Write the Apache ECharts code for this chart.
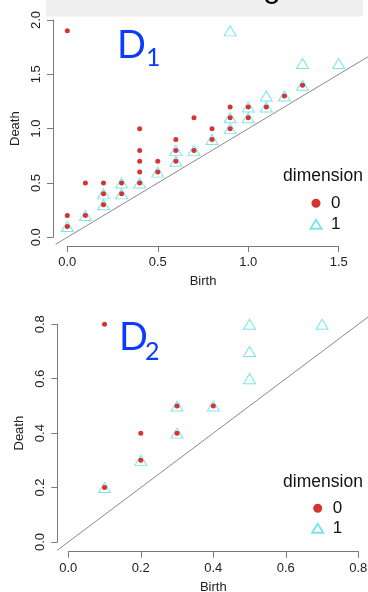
<!DOCTYPE html>
<html><head><meta charset="utf-8">
<script src="https://cdn.jsdelivr.net/npm/echarts@6/dist/echarts.min.js"></script>
<style>html,body{margin:0;padding:0;background:#fff}#c{width:368px;height:592px}</style>
</head><body><div id="c"></div>
<script>
// Diagram D1
const d1Dim0 = [[0,1.9],[0,0.2],[0,0.1],[0.1,0.5],[0.1,0.2],[0.2,0.5],[0.2,0.4],[0.2,0.3],[0.3,0.5],[0.3,0.4],
  [0.4,1.0],[0.4,0.8],[0.4,0.7],[0.4,0.6],[0.4,0.5],[0.5,0.7],[0.5,0.6],[0.6,0.9],[0.6,0.8],[0.6,0.7],
  [0.7,1.1],[0.7,0.8],[0.8,1.0],[0.8,0.9],[0.9,1.2],[0.9,1.1],[0.9,1.0],[1.0,1.2],[1.0,1.1],[1.1,1.2],[1.2,1.3],[1.3,1.4]];
const d1Dim1 = [[0,0.1],[0.1,0.2],[0.2,0.4],[0.2,0.3],[0.3,0.5],[0.3,0.4],[0.4,0.5],[0.5,0.6],[0.6,0.8],[0.6,0.7],
  [0.7,0.8],[0.8,0.9],[0.9,1.9],[0.9,1.1],[0.9,1.0],[1.0,1.2],[1.0,1.1],[1.1,1.3],[1.1,1.2],[1.2,1.3],[1.3,1.6],[1.3,1.4],[1.5,1.6]];
const d1Diag = [[-0.065,-0.065],[1.8,1.8]];
const d1XTicks = [0, 0.5, 1.0, 1.5];
const d1YTicks = [0, 0.5, 1.0, 1.5, 2.0];
// Diagram D2
const d2Dim0 = [[0.1,0.8],[0.1,0.2],[0.2,0.4],[0.2,0.3],[0.3,0.5],[0.3,0.4],[0.4,0.5]];
const d2Dim1 = [[0.1,0.2],[0.2,0.3],[0.3,0.5],[0.3,0.4],[0.4,0.5],[0.5,0.8],[0.5,0.7],[0.5,0.6],[0.7,0.8]];
const d2Diag = [[-0.031,-0.031],[0.9,0.9]];
const d2XTicks = [0, 0.2, 0.4, 0.6, 0.8];
const d2YTicks = [0, 0.2, 0.4, 0.6, 0.8];

const FONT = 'Liberation Sans, Arial, sans-serif';
const AX = '#7a7a7a';
const RED = '#cc0000';
const CYAN = '#5cdde6';

// plot geometry (pixels of first and last tick)
const geo = [
  {x0:67.3, x1:338.7, y0:237.3, y1:20},
  {x0:68.3, x1:358.3, y0:542, y1:324.3}
];
const ticksX = [d1XTicks, d2XTicks], ticksY = [d1YTicks, d2YTicks], diags = [d1Diag, d2Diag];

function gridFor(i){
  const g = geo[i];
  return {left:g.x0, top:g.y1, width:g.x1-g.x0, height:g.y0-g.y1, outerBoundsMode:'none', containLabel:false};
}
function diagGridFor(i){
  const g = geo[i], tx = ticksX[i], ty = ticksY[i], d = diags[i];
  const sx = (g.x1-g.x0)/(tx[tx.length-1]-tx[0]);
  const sy = (g.y0-g.y1)/(ty[ty.length-1]-ty[0]);
  const lo = d[0][0], hi = d[1][0];
  return {left:g.x0 + (lo-tx[0])*sx, width:(hi-lo)*sx, top:g.y0 - (hi-ty[0])*sy, height:(hi-lo)*sy,
    outerBoundsMode:'none', containLabel:false};
}

function xAxisCfg(g, ticks, offset){
  return {gridIndex:g, type:'value', min:ticks[0], max:ticks[ticks.length-1], interval:ticks[1]-ticks[0],
    offset:offset, axisLine:{show:true,onZero:false,lineStyle:{color:AX,width:1}},
    axisTick:{show:true,length:6,lineStyle:{color:AX}},
    axisLabel:{margin:10,fontSize:13,color:'#222',fontFamily:FONT,formatter:v=>v.toFixed(1),showMinLabel:true,showMaxLabel:true},
    splitLine:{show:false},
    name:'Birth', nameLocation:'middle', nameGap:29, nameTextStyle:{fontSize:13,color:'#222',fontFamily:FONT}};
}
function yAxisCfg(g, ticks, offset){
  return {gridIndex:g, type:'value', min:ticks[0], max:ticks[ticks.length-1], interval:ticks[1]-ticks[0],
    offset:offset, axisLine:{show:true,onZero:false,lineStyle:{color:AX,width:1}},
    axisTick:{show:true,length:6,lineStyle:{color:AX}},
    axisLabel:{margin:10,fontSize:13,color:'#222',fontFamily:FONT,rotate:90,formatter:v=>v.toFixed(1),showMinLabel:true,showMaxLabel:true},
    splitLine:{show:false},
    name:'Death', nameLocation:'middle', nameGap:24, nameRotate:90, nameTextStyle:{fontSize:13,color:'#222',fontFamily:FONT}};
}
function hiddenAxis(g, d){
  return {gridIndex:g, type:'value', min:d[0][0], max:d[1][0], show:false, splitLine:{show:false}};
}
function pts(g, name, data){
  const tri = name === '1';
  return {type:'scatter', name:name, xAxisIndex:g, yAxisIndex:g, data:data, clip:false, animation:false,
    symbol: tri ? 'triangle' : 'circle', symbolSize: tri ? [12,10] : 5,
    itemStyle: tri ? {color:'rgba(0,0,0,0)', borderColor:CYAN, borderWidth:1} : {color:RED},
    z: tri ? 2 : 3};
}
function diag(g, data){
  return {type:'line', name:'diag', xAxisIndex:g, yAxisIndex:g, data:data, clip:false, showSymbol:false,
    silent:true, animation:false, lineStyle:{color:'#8a8a8a', width:1}, z:1};
}
function legendCfg(left, top, lh){
  return {data:['0','1'], orient:'vertical', left:left, top:top, itemWidth:11, itemHeight:9, itemGap:0, padding:0,
    selectedMode:false, textStyle:{fontSize:17, lineHeight:lh, color:'#111', fontFamily:FONT, padding:[0,0,0,4.5]}};
}

const chart = echarts.init(document.getElementById('c'), null, {renderer:'canvas'});
chart.setOption({
  backgroundColor:'#fff',
  animation:false,
  grid:[gridFor(0), gridFor(1), diagGridFor(0), diagGridFor(1)],
  xAxis:[xAxisCfg(0, d1XTicks, 8.7), xAxisCfg(1, d2XTicks, 9.7), hiddenAxis(2, d1Diag), hiddenAxis(3, d2Diag)],
  yAxis:[yAxisCfg(0, d1YTicks, 14.3), yAxisCfg(1, d2YTicks, 11), hiddenAxis(2, d1Diag), hiddenAxis(3, d2Diag)],
  legend:[legendCfg(309.5, 192.8, 21), legendCfg(311.2, 498.3, 20)],
  series:[
    diag(2, d1Diag), pts(0,'1',d1Dim1), pts(0,'0',d1Dim0),
    diag(3, d2Diag), pts(1,'1',d2Dim1), pts(1,'0',d2Dim0)
  ],
  graphic:[
    {type:'rect', shape:{x:46,y:0,width:317,height:16.5}, style:{fill:'#efefef'}, silent:true},
    {type:'text', x:263, y:-28, style:{text:'g', font:'32px Liberation Sans', fill:'#000', textVerticalAlign:'top'}},
    {type:'text', x:117, y:46, style:{text:'D', font:'38px Lato', fill:'#0a3cff', textVerticalAlign:'middle'}},
    {type:'text', x:146, y:58, style:{text:'1', font:'25px Lato', fill:'#0a3cff', textVerticalAlign:'middle'}},
    {type:'text', x:119, y:338, style:{text:'D', font:'38px Lato', fill:'#0a3cff', textVerticalAlign:'middle'}},
    {type:'text', x:145, y:352, style:{text:'2', font:'25px Lato', fill:'#0a3cff', textVerticalAlign:'middle'}},
    {type:'text', x:323, y:176, style:{text:'dimension', font:'17.5px Liberation Sans', fill:'#111', textAlign:'center', textVerticalAlign:'middle'}},
    {type:'text', x:323, y:482, style:{text:'dimension', font:'17.5px Liberation Sans', fill:'#111', textAlign:'center', textVerticalAlign:'middle'}}
  ]
});
</script></body></html>
